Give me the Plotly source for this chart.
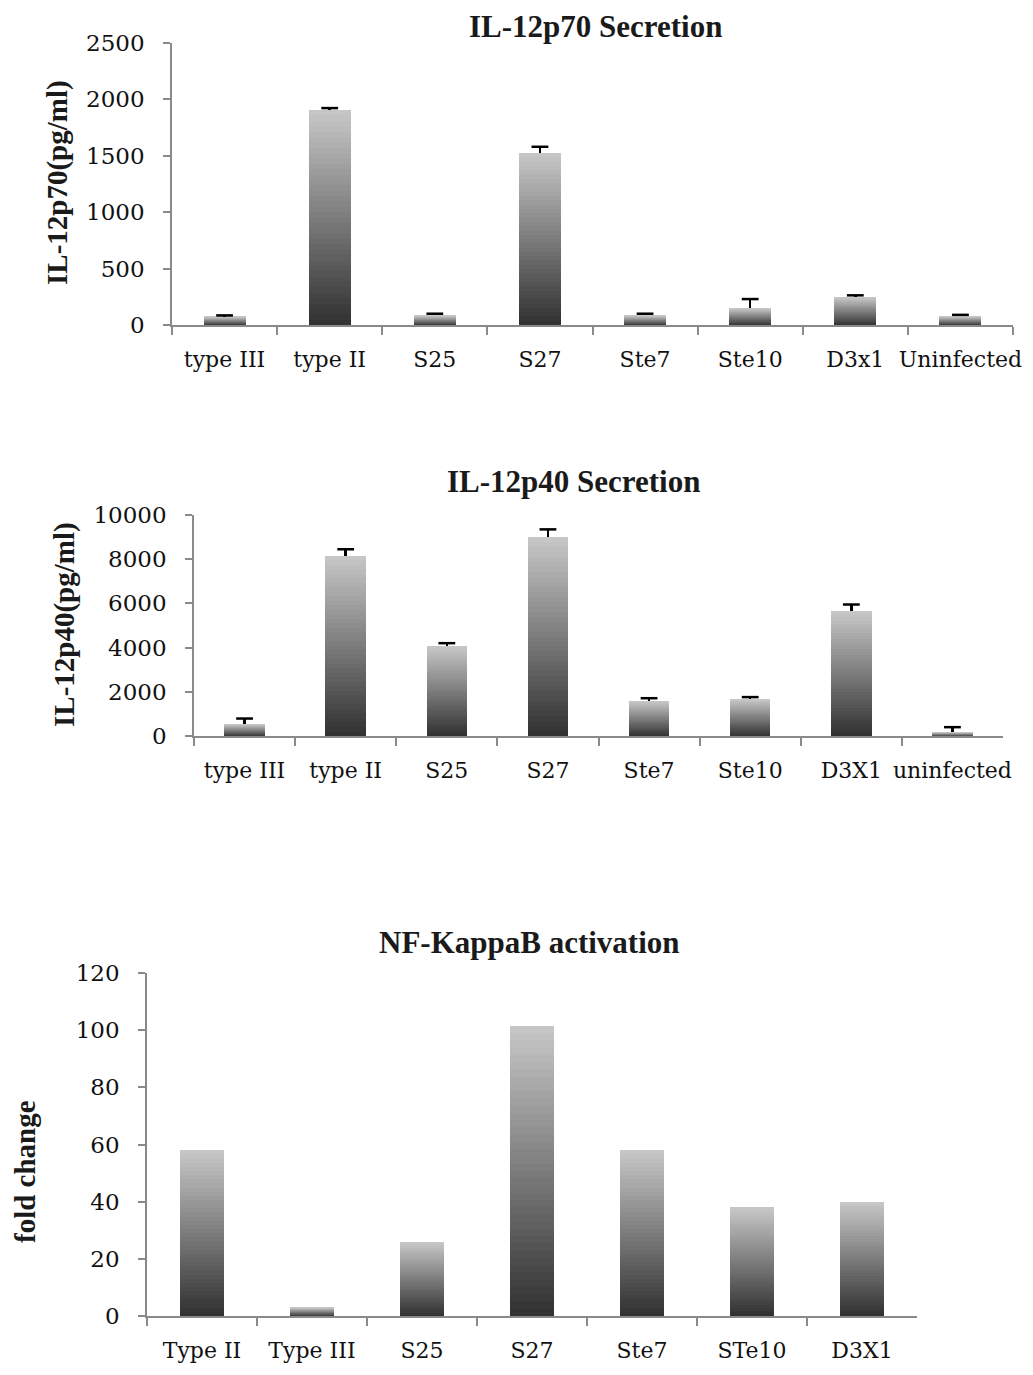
import plotly.graph_objects as go

# page body has an 8px margin; keep the figure inside the window
OFF = 8
W, H = 1033 - 2 * OFF, 1375 - 2 * OFF

# ---- data ----
p70_cats = ["type III", "type II", "S25", "S27", "Ste7", "Ste10", "D3x1", "Uninfected"]
p70_vals = [75, 1905, 85, 1525, 85, 150, 248, 78]
p70_err = [10, 18, 15, 55, 15, 80, 15, 12]

p40_cats = ["type III", "type II", "S25", "S27", "Ste7", "Ste10", "D3X1", "uninfected"]
p40_vals = [540, 8150, 4070, 9000, 1580, 1670, 5650, 180]
p40_err = [250, 300, 130, 350, 130, 90, 300, 220]

nfk_cats = ["Type II", "Type III", "S25", "S27", "Ste7", "STe10", "D3X1"]
nfk_vals = [58, 3, 26, 101.5, 58, 38, 40]

N_SEG = 40
DARK = (50, 50, 50)
LIGHT = (198, 198, 198)


def seg_color(i):
    t = i / (N_SEG - 1)
    c = [round(DARK[k] + (LIGHT[k] - DARK[k]) * t) for k in range(3)]
    return f"rgb({c[0]},{c[1]},{c[2]})"


fig = go.Figure()


def add_bars(cats, vals, err, xa, ya):
    for i in range(N_SEG):
        kw = {}
        if i == N_SEG - 1 and err is not None:
            kw["error_y"] = dict(type="data", symmetric=False, array=err,
                                 arrayminus=[0] * len(err), color="black",
                                 thickness=2.5, width=0)
        fig.add_trace(go.Bar(
            x=cats, y=[v / N_SEG for v in vals], xaxis=xa, yaxis=ya,
            marker=dict(color=seg_color(i), line=dict(width=0)),
            showlegend=False, hoverinfo="skip", **kw))
    if err is not None:
        # caps of the (upper-only) error bars
        fig.add_trace(go.Scatter(
            x=cats, y=[v + e for v, e in zip(vals, err)], xaxis=xa, yaxis=ya,
            mode="markers", showlegend=False, hoverinfo="skip",
            marker=dict(symbol="line-ew", size=12, color="black",
                        line=dict(color="black", width=2.5))))


add_bars(p70_cats, p70_vals, p70_err, "x", "y")
add_bars(p40_cats, p40_vals, p40_err, "x2", "y2")
add_bars(nfk_cats, nfk_vals, None, "x3", "y3")

xtick_font = dict(family="DejaVu Serif", size=22, color="#111111")
ytick_font = dict(family="DejaVu Serif", size=23, color="#111111")
AX = "#8a8a8a"


def px_x(a, b):
    return [(a - OFF) / W, (b - OFF) / W]


def px_y(top, bottom):
    return [1 - (bottom - OFF) / H, 1 - (top - OFF) / H]


def xaxis(dom, anchor, n):
    return dict(domain=dom, anchor=anchor, type="category", tickson="boundaries",
                range=[-0.5, n - 0.5], showline=True, linecolor=AX, linewidth=1.5,
                ticks="outside", ticklen=8, tickcolor=AX, tickwidth=1.5,
                showgrid=False, zeroline=False, tickfont=xtick_font, tickangle=0,
                ticklabelstandoff=14, fixedrange=True, automargin=False)


def yaxis(dom, anchor, rng, dtick):
    return dict(domain=dom, anchor=anchor, range=rng, dtick=dtick, showline=True,
                linecolor=AX, linewidth=1.5, ticks="outside", ticklen=7,
                tickcolor=AX, tickwidth=1.5, showgrid=False, zeroline=False,
                tickfont=ytick_font, ticklabelstandoff=14, fixedrange=True,
                tickformat="d", automargin=False)


fig.update_layout(
    width=W, height=H, margin=dict(l=0, r=0, t=0, b=0),
    paper_bgcolor="white", plot_bgcolor="white",
    barmode="stack", bargap=0.6,
    xaxis=xaxis(px_x(172, 1013), "y", len(p70_cats)),
    yaxis=yaxis(px_y(43, 325), "x", [0, 2500], 500),
    xaxis2=xaxis(px_x(194, 1003), "y2", len(p40_cats)),
    yaxis2=yaxis(px_y(515, 736), "x2", [0, 10000], 2000),
    xaxis3=xaxis(px_x(147, 917), "y3", len(nfk_cats)),
    yaxis3=yaxis(px_y(973, 1316), "x3", [0, 120], 20),
)

title_font = dict(family="Liberation Serif", size=31, color="#1a1a1a")
ytitle_font = dict(family="Liberation Serif", size=29, color="#1a1a1a")


def ax_(x):
    return (x - OFF) / W


def ay_(y):
    return 1 - (y - OFF) / H


annots = [
    dict(text="<b>IL-12p70 Secretion</b>", x=ax_(595), y=1.0, yanchor="top",
         font=title_font),
    dict(text="<b>IL-12p40 Secretion</b>", x=ax_(573), y=ay_(481), font=title_font),
    dict(text="<b>NF-KappaB activation</b>", x=ax_(529), y=ay_(942), font=title_font),
    dict(text="<b>IL-12p70(pg/ml)</b>", x=ax_(57), y=ay_(183), font=ytitle_font, textangle=-90),
    dict(text="<b>IL-12p40(pg/ml)</b>", x=ax_(65), y=ay_(625), font=ytitle_font, textangle=-90),
    dict(text="<b>fold change</b>", x=0.0, xanchor="left", y=ay_(1172), font=ytitle_font,
         textangle=-90),
]
for a in annots:
    a.setdefault("xanchor", "center")
    a.setdefault("yanchor", "middle")
    a.update(xref="paper", yref="paper", showarrow=False, borderpad=0)
fig.update_layout(annotations=annots)

fig.write_html("out.html")
